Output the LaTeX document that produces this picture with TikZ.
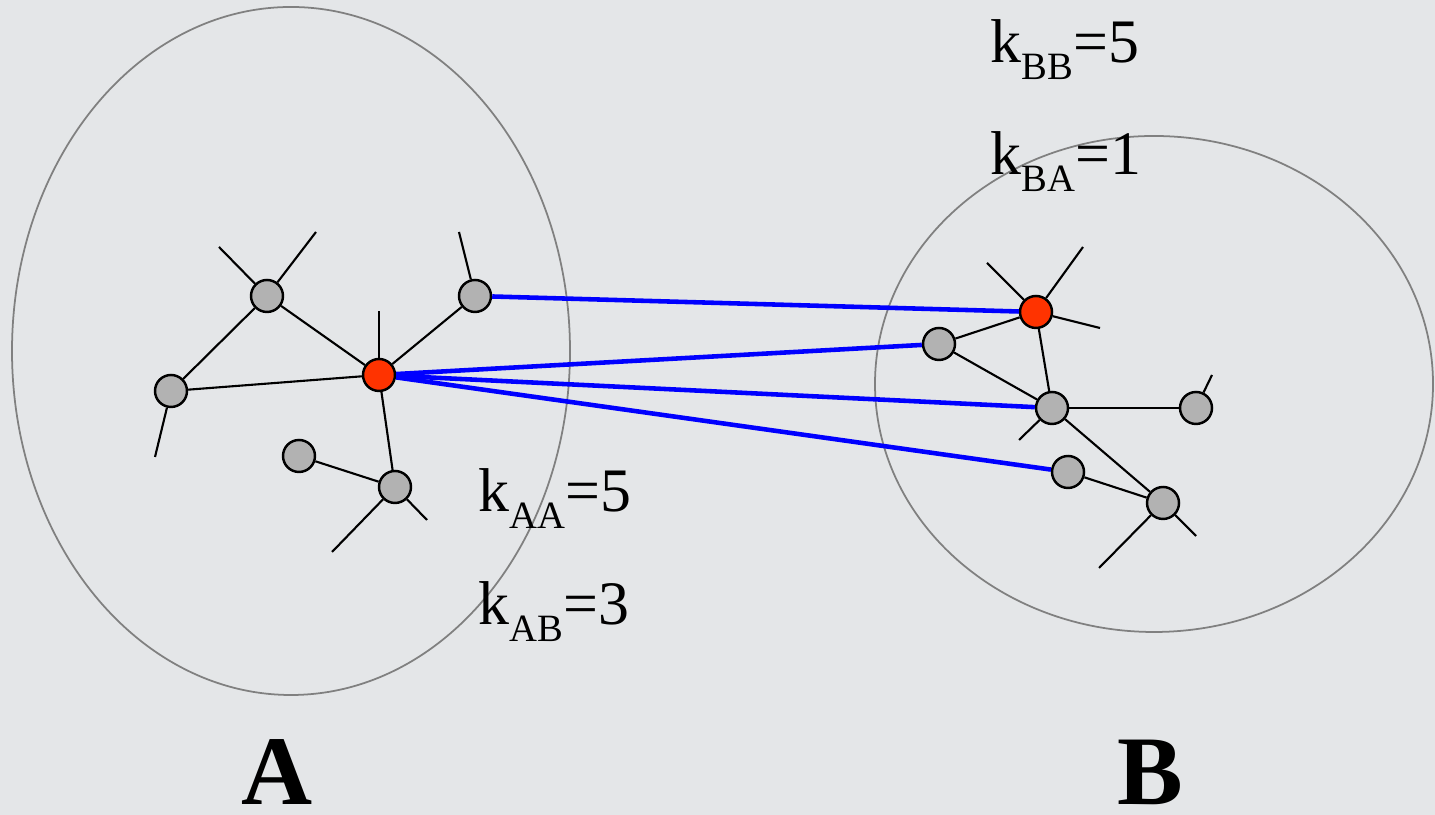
\documentclass[tikz,border=0pt]{standalone}
\usepackage{fontspec}
\setmainfont{Liberation Serif}
\usetikzlibrary{positioning}
\definecolor{MarbleGray}{RGB}{228, 230, 232}
\definecolor{HubRed}{RGB}{255, 51, 0}
\definecolor{NodeGray}{RGB}{178, 178, 178}
\definecolor{RingGray}{RGB}{128, 128, 128}
\newcommand{\kval}[2]{k\raisebox{-0.27em}{\fontsize{11}{11}\selectfont #1}=#2}

\begin{document}
\begin{tikzpicture}[
    vertex/.style={circle, draw=black, line width=0.7pt, fill=NodeGray, minimum size=0.32cm, inner sep=0pt},
    hub/.style={vertex, fill=HubRed},
    edge/.style={line width=0.6pt, black},
    link/.style={line width=1.3pt, blue},
    ring/.style={line width=0.5pt, RingGray},
    klabel/.style={anchor=base west, inner sep=0pt, font=\fontsize{17.6}{18}\selectfont},
    grouplabel/.style={anchor=base west, inner sep=0pt, font=\fontsize{28}{28}\selectfont\bfseries}
  ]
    \fill[MarbleGray] (0,0) rectangle (14.35,8.15);
    \useasboundingbox (0,0) rectangle (14.35,8.15);

    % Group A
    \draw[ring] (2.91,4.64) ellipse (2.79 and 3.44);
    \node[vertex] (a1) at (2.67,5.19) {};
    \node[vertex] (a2) at (1.71,4.24) {};
    \node[hub]    (ra) at (3.79,4.40) {};
    \node[vertex] (a3) at (4.75,5.19) {};
    \node[vertex] (a4) at (3.95,3.28) {};
    \node[vertex] (a5) at (2.99,3.59) {};
    \foreach \u/\v in {a1/a2, a1/ra, a2/ra, ra/a3, ra/a4, a5/a4} {
      \draw[edge] (\u) -- (\v);
    }
    \foreach \n/\i/\x/\y in {a1/1/2.19/5.68, a1/2/3.16/5.83, a2/3/1.55/3.58, ra/4/3.79/5.04,
                            a3/5/4.59/5.83, a4/6/3.32/2.63, a4/7/4.27/2.95} {
      \coordinate (sa\i) at (\x,\y);
      \draw[edge] (\n) -- (sa\i);
    }
    \node[klabel] (kaa) at (4.78,3.03) {\kval{AA}{5}};
    \node[klabel] (kab) at (4.78,1.90) {\kval{AB}{3}};
    \node[grouplabel] (ga) at (2.41,0.10) {A};

    % Group B
    \draw[ring] (11.54,4.31) ellipse (2.79 and 2.48);
    \node[hub]    (rb) at (10.36,5.03) {};
    \node[vertex] (b1) at (9.39,4.71) {};
    \node[vertex] (b2) at (10.52,4.07) {};
    \node[vertex] (b3) at (11.96,4.07) {};
    \node[vertex] (b4) at (10.68,3.43) {};
    \node[vertex] (b5) at (11.63,3.12) {};
    \foreach \u/\v in {b1/rb, rb/b2, b1/b2, b2/b3, b2/b5, b4/b5} {
      \draw[edge] (\u) -- (\v);
    }
    \foreach \n/\i/\x/\y in {rb/1/9.87/5.52, rb/2/10.83/5.68, rb/3/11.00/4.87, b2/4/10.19/3.75,
                            b3/5/12.12/4.40, b5/6/10.99/2.47, b5/7/11.96/2.79} {
      \coordinate (sb\i) at (\x,\y);
      \draw[edge] (\n) -- (sb\i);
    }
    \node[klabel] (kbb) at (9.90,7.52) {\kval{BB}{5}};
    \node[klabel] (kba) at (9.90,6.40) {\kval{BA}{1}};
    \node[grouplabel] (gb) at (11.17,0.10) {B};

    % Links between A and B
    \draw[link] (a3) -- (rb);
    \foreach \v in {b1, b2, b4} {
      \draw[link] (ra) -- (\v);
    }
  \end{tikzpicture}
\end{document}
